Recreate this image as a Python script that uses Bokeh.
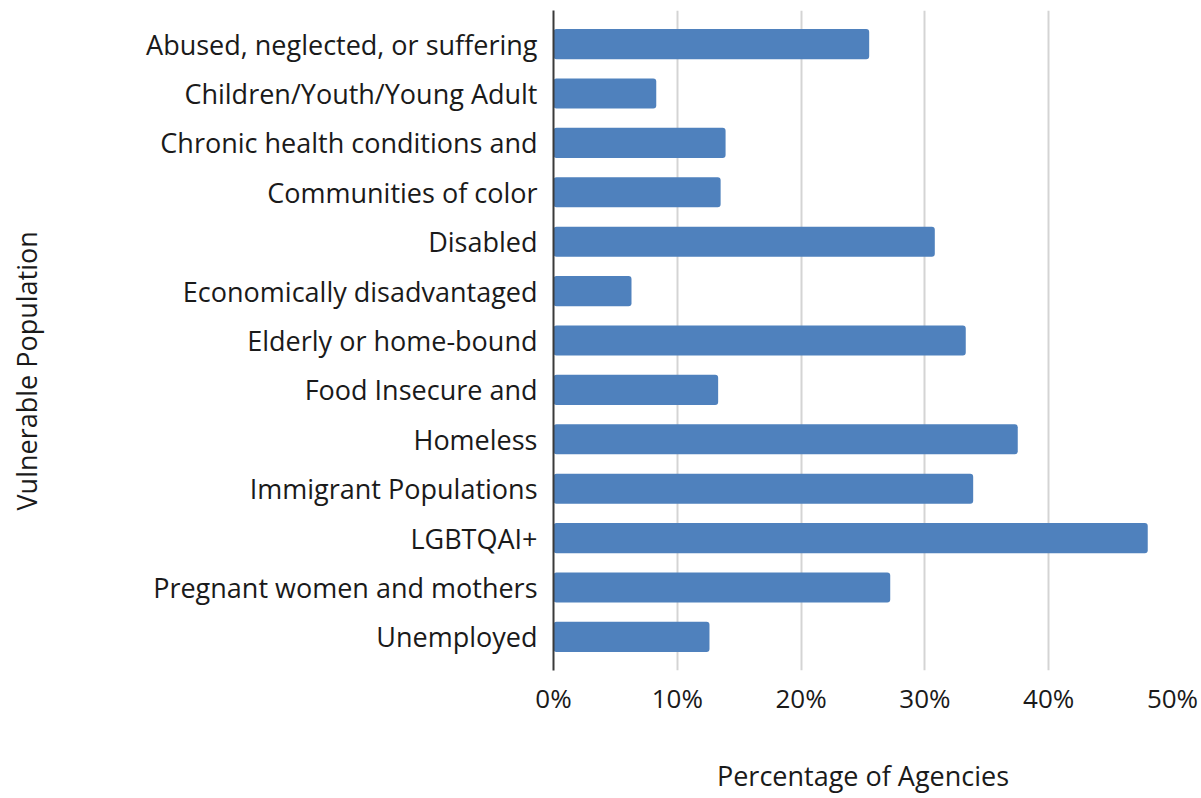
from bokeh.plotting import figure
from bokeh.models import FactorRange, FixedTicker, NumeralTickFormatter, Title
from bokeh.embed import file_html
from bokeh.resources import INLINE

categories = [
    "Abused, neglected, or suffering",
    "Children/Youth/Young Adult",
    "Chronic health conditions and",
    "Communities of color",
    "Disabled",
    "Economically disadvantaged",
    "Elderly or home-bound",
    "Food Insecure and",
    "Homeless",
    "Immigrant Populations",
    "LGBTQAI+",
    "Pregnant women and mothers",
    "Unemployed",
]
values = [0.255, 0.083, 0.139, 0.135, 0.308, 0.063, 0.333, 0.133, 0.375, 0.339, 0.480, 0.272, 0.126]
x_ticks = [0.0, 0.1, 0.2, 0.3, 0.4, 0.5]
x_title = "Percentage of Agencies"
y_title = "Vulnerable Population"

FONT = "Open Sans"
TXT = "#1a1a1a"

y_range = FactorRange(factors=list(reversed(categories)), range_padding=0.18,
                      range_padding_units="absolute")

p = figure(width=1201, height=798, y_range=y_range, x_range=(0, 0.5),
           output_backend="svg", toolbar_location=None,
           min_border_left=553, min_border_right=29, min_border_top=10,
           min_border_bottom=128)
p.outline_line_color = None
p.background_fill_color = "white"

p.hbar(y=categories, right=values, left=0, height=0.61, fill_color="#4F81BD",
       line_color=None, border_radius=3)

p.xaxis.ticker = FixedTicker(ticks=x_ticks)
p.xaxis.formatter = NumeralTickFormatter(format="0%")
p.xaxis.axis_line_color = None
p.xaxis.major_tick_line_color = None
p.xaxis.minor_tick_line_color = None
p.xaxis.major_label_text_font = FONT
p.xaxis.major_label_text_font_size = "26px"
p.xaxis.major_label_text_color = TXT
p.xaxis.major_label_standoff = 3
p.xaxis.axis_label = x_title
p.xaxis.axis_label_text_font = FONT
p.xaxis.axis_label_text_font_size = "27px"
p.xaxis.axis_label_text_font_style = "normal"
p.xaxis.axis_label_text_color = TXT
p.xaxis.axis_label_standoff = 38

p.yaxis.axis_line_color = "#3a3a3a"
p.yaxis.axis_line_width = 2
p.yaxis.major_tick_line_color = None
p.yaxis.minor_tick_line_color = None
p.yaxis.major_label_text_font = FONT
p.yaxis.major_label_text_font_size = "27px"
p.yaxis.major_label_text_color = TXT
p.yaxis.major_label_standoff = 10

p.xgrid.grid_line_color = "#d4d4d4"
p.xgrid.grid_line_width = 2
p.ygrid.grid_line_color = None

# spacer panel between tick labels and the y title
spacer = Title(text=" ", standoff=55, text_font=FONT, text_font_size="27px")
p.add_layout(spacer, "left")

ytitle = Title(text=y_title, align="left", offset=160, standoff=10, text_font=FONT,
               text_font_size="27px", text_font_style="normal", text_color=TXT)
p.add_layout(ytitle, "left")

open("out.html", "w").write(file_html(p, INLINE))
